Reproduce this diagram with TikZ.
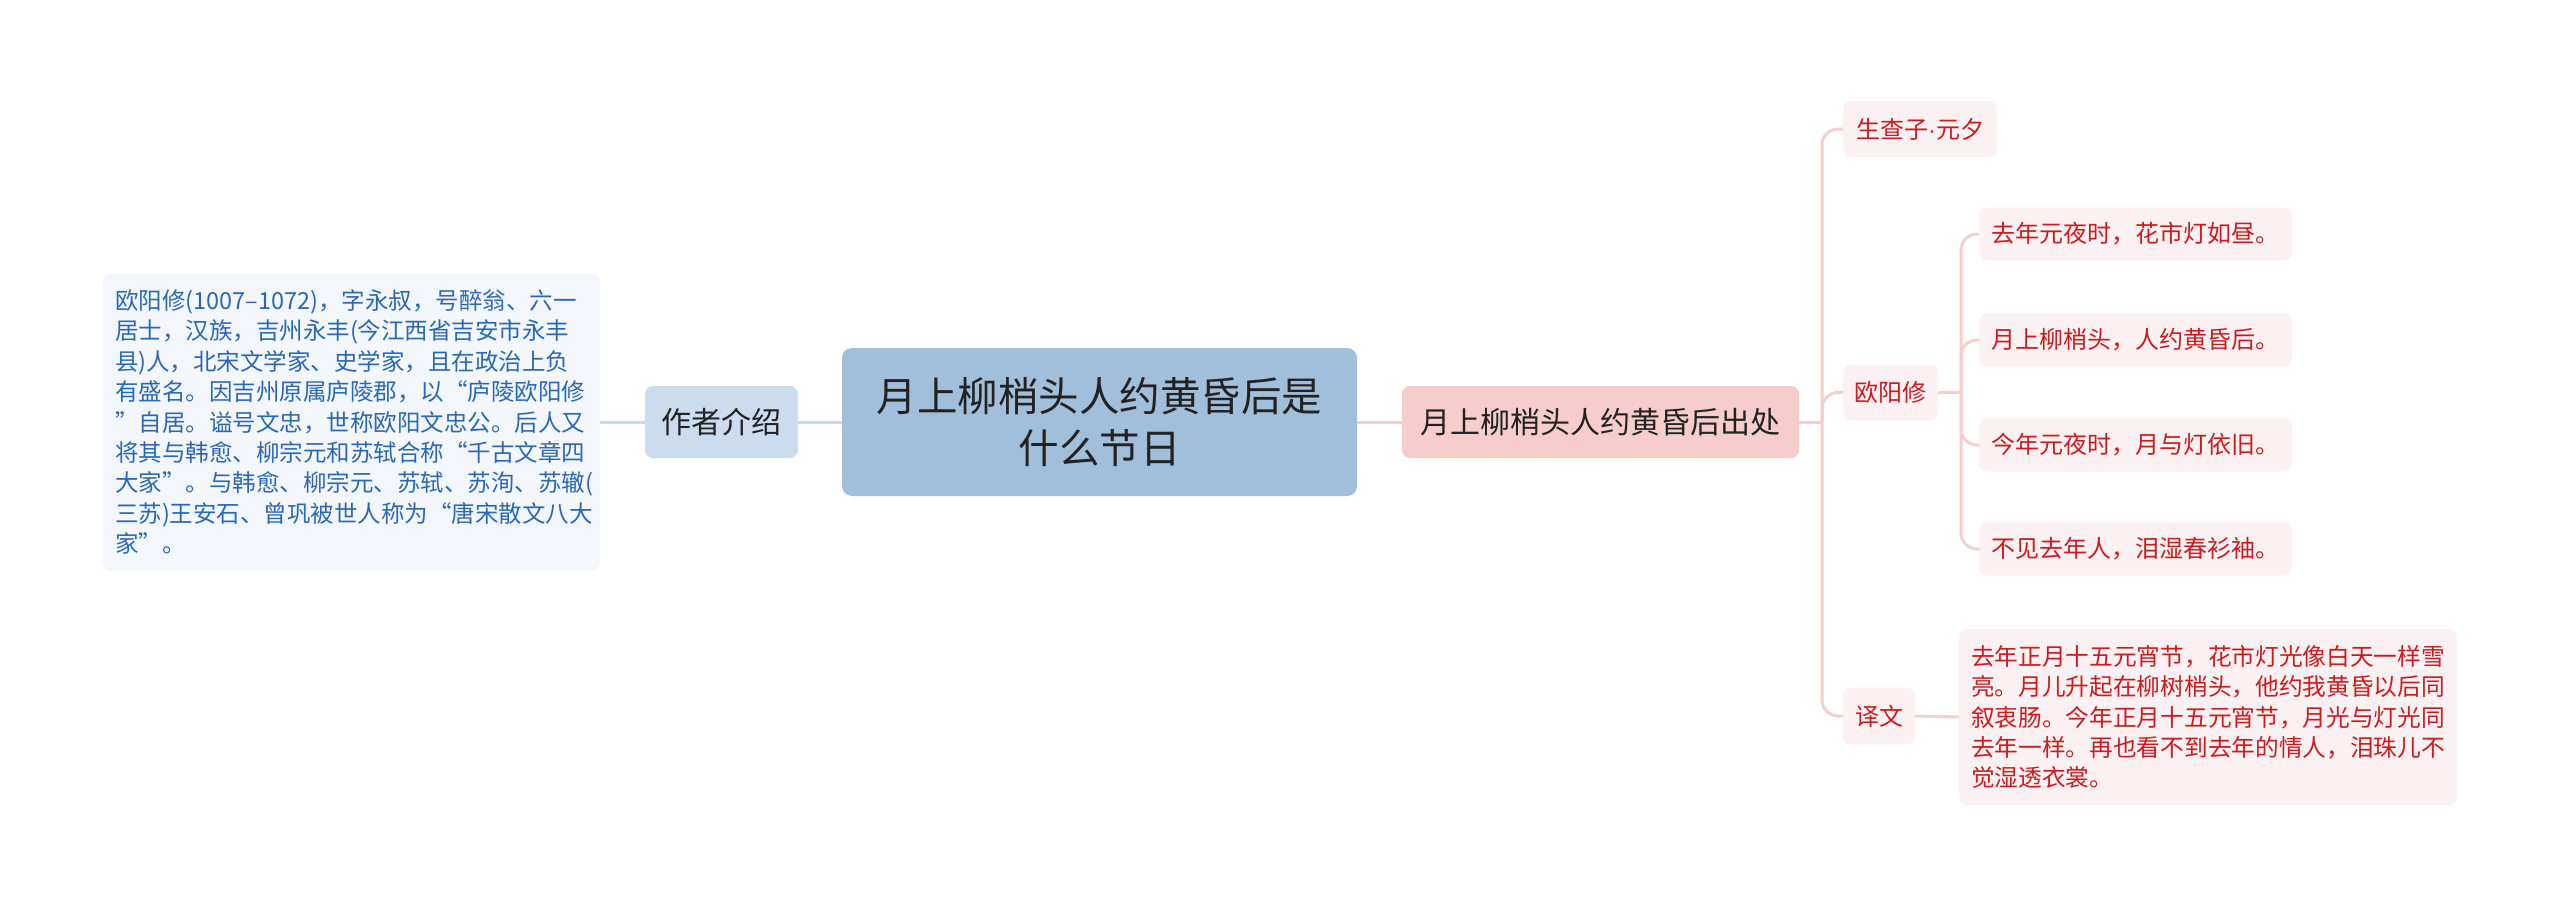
\documentclass[tikz,border=0pt]{standalone}
\usepackage{fontspec}
\setmainfont{Noto Sans CJK SC}
\newfontfamily\dotfont{Liberation Sans}
\definecolor{introfill}{HTML}{F3F7FC}
\definecolor{introtext}{HTML}{2B68B4}
\definecolor{authfill}{HTML}{CADCEE}
\definecolor{centfill}{HTML}{A1BEDB}
\definecolor{darktext}{HTML}{222222}
\definecolor{blueline}{HTML}{CCDAE8}
\definecolor{pinkfill}{HTML}{F6CCCD}
\definecolor{leaffill}{HTML}{FCF1F2}
\definecolor{redtext}{HTML}{CC1B1F}
\definecolor{pinkline}{HTML}{F2CFD1}
\begin{document}
\begin{tikzpicture}[x=1pt,y=-1pt,
  every node/.style={inner sep=0pt,outer sep=0pt},
  introbox/.style={fill=introfill,rounded corners=8pt,text=introtext,align=left,
    text width=473pt,font=\fontsize{23.5}{30.4}\selectfont},
  authbox/.style={fill=authfill,rounded corners=8pt,text=darktext,align=center,
    font=\fontsize{30}{36}\selectfont},
  centbox/.style={fill=centfill,rounded corners=10pt,text=darktext,align=center,
    font=\fontsize{40.5}{52}\selectfont},
  srcbox/.style={fill=pinkfill,rounded corners=8pt,text=darktext,align=center,
    font=\fontsize{30}{36}\selectfont},
  leafbox/.style={fill=leaffill,rounded corners=8pt,text=redtext,align=center,
    font=\fontsize{24}{30}\selectfont},
  longleaf/.style={fill=leaffill,rounded corners=8pt,text=redtext,align=left,
    text width=474pt,font=\fontsize{23.7}{30.2}\selectfont},
  bl/.style={draw=blueline,line width=3pt},
  pl/.style={draw=pinkline,line width=3pt},
]
\useasboundingbox[fill=white] (0,0) rectangle (2560,907);

% left side
\node[introbox,minimum width=497pt,minimum height=297pt] (intro) at (351.5,422) {%
欧阳修(1007–1072)，字永叔，号醉翁、六一\\
居士，汉族，吉州永丰(今江西省吉安市永丰\\
县)人，北宋文学家、史学家，且在政治上负\\
有盛名。因吉州原属庐陵郡，以“庐陵欧阳修\\
”自居。谥号文忠，世称欧阳文忠公。后人又\\
将其与韩愈、柳宗元和苏轼合称“千古文章四\\
大家”。与韩愈、柳宗元、苏轼、苏洵、苏辙(\\
三苏)王安石、曾巩被世人称为“唐宋散文八大\\
家”。};
\node[authbox,minimum width=153pt,minimum height=72pt] (auth) at (721.5,422) {作者介绍};
\node[centbox,minimum width=515pt,minimum height=148pt] (cent) at (1099.5,422) {月上柳梢头人约黄昏后是\\什么节日};

% right side
\node[srcbox,minimum width=397pt,minimum height=72pt] (src) at (1600.5,422) {月上柳梢头人约黄昏后出处};
\node[leafbox,minimum width=154pt,minimum height=56pt] (sz) at (1920,129) {生查子{\dotfont ·}元夕};
\node[leafbox,minimum width=95pt,minimum height=56pt] (oy) at (1890.5,392.5) {欧阳修};
\node[leafbox,minimum width=72pt,minimum height=57pt] (yw) at (1879,716) {译文};
\node[leafbox,minimum width=313pt,minimum height=53pt] (l1) at (2135.5,234) {去年元夜时，花市灯如昼。};
\node[leafbox,minimum width=313pt,minimum height=53pt] (l2) at (2135.5,340) {月上柳梢头，人约黄昏后。};
\node[leafbox,minimum width=313pt,minimum height=53pt] (l3) at (2135.5,445) {今年元夜时，月与灯依旧。};
\node[leafbox,minimum width=313pt,minimum height=53pt] (l4) at (2135.5,549) {不见去年人，泪湿春衫袖。};
\node[longleaf,minimum width=498pt,minimum height=176pt] (ywt) at (2208,717) {%
去年正月十五元宵节，花市灯光像白天一样雪\\
亮。月儿升起在柳树梢头，他约我黄昏以后同\\
叙衷肠。今年正月十五元宵节，月光与灯光同\\
去年一样。再也看不到去年的情人，泪珠儿不\\
觉湿透衣裳。};

% connectors
\coordinate (tr) at (1822,422);
\coordinate (st) at (1961,392.5);
\draw[bl] (intro.east) -- (auth.west);
\draw[bl] (auth.east) -- (cent.west);
\draw[pl] (cent.east) -- (src.west);
\draw[pl] (src.east) -- (tr);
\draw[pl,rounded corners=16pt] (sz.west) -- (sz.west -| tr) -- (yw.west -| tr) -- (yw.west);
\draw[pl,rounded corners=16pt] (tr) |- (oy.west);
\draw[pl] (oy.east) -- (st);
\draw[pl,rounded corners=16pt] (l1.west) -- (l1.west -| st) -- (l4.west -| st) -- (l4.west);
\draw[pl,rounded corners=16pt] (st) |- (l2.west);
\draw[pl,rounded corners=16pt] (st) |- (l3.west);
\draw[pl] (yw.east) -- (ywt.west);
\end{tikzpicture}
\end{document}
